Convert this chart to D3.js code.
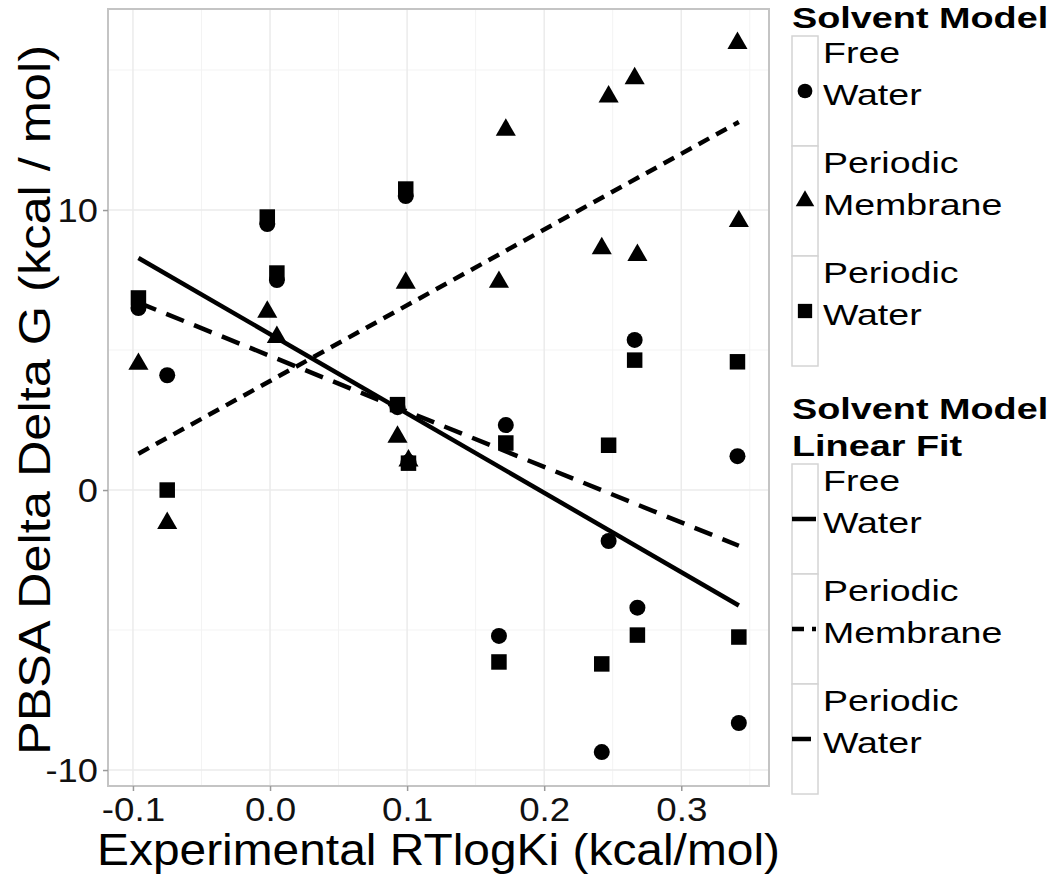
<!DOCTYPE html>
<html>
<head>
<meta charset="utf-8">
<script src="https://cdn.jsdelivr.net/npm/d3@7"></script>
<style>
  html, body { margin: 0; padding: 0; background: #fff; }
  svg { display: block; font-family: "Liberation Sans", Arial, Helvetica, sans-serif; }
</style>
</head>
<body>
<svg id="chart" width="1050" height="875"></svg>
<script>
// ---------------- DATA ----------------
const ligandX = [-0.096, -0.075, -0.002, 0.005, 0.093, 0.099, 0.101, 0.167, 0.172, 0.242, 0.247, 0.266, 0.268, 0.341, 0.342];
const freeWater        = [6.5, 4.1, 9.5, 7.5, 2.96, 10.5, 1.0, -5.21, 2.32, -9.36, -1.82, 5.36, -4.2, 1.21, -8.32];
const periodicMembrane = [4.5, -1.18, 6.36, 5.46, 1.9, 7.4, 1.05, 7.43, 12.86, 8.63, 14.05, 14.7, 8.39, 15.96, 9.6];
const periodicWater    = [6.86, 0.0, 9.75, 7.75, 3.05, 10.75, 0.96, -6.14, 1.68, -6.21, 1.6, 4.64, -5.18, 4.58, -5.25];
const seriesNames = ["Free Water", "Periodic Membrane", "Periodic Water"];
const legendLabels = [["Free", "Water"], ["Periodic", "Membrane"], ["Periodic", "Water"]];
const xTicks = [-0.1, 0.0, 0.1, 0.2, 0.3];
const xTickLabels = ["-0.1", "0.0", "0.1", "0.2", "0.3"];
const xMinor = [-0.05, 0.05, 0.15, 0.25, 0.35];
const yTicks = [-10, 0, 10];
const yTickLabels = ["-10", "0", "10"];
const yMinor = [-5, 5, 15];
const xTitle = "Experimental RTlogKi (kcal/mol)";
const yTitle = "PBSA Delta Delta G (kcal / mol)";
const legendTitle1 = ["Solvent Model"];
const legendTitle2 = ["Solvent Model", "Linear Fit"];

// ---------------- LAYOUT ----------------
const panel = { left: 108, right: 769, top: 9, bottom: 786 };
const svg = d3.select("#chart");
const x = d3.scaleLinear().domain([-0.1182, 0.364]).range([panel.left, panel.right]);
const y = d3.scaleLinear().domain([-10.57, 17.18]).range([panel.bottom, panel.top]);

const symbols = [d3.symbolCircle, d3.symbolTriangle, d3.symbolSquare];
const symbolSizes = [201, 175, 240];
const dashes = [null, "12,8", "19,11"];
const lineW = 4.5;

function stretch(sel, f) {
  sel.each(function () {
    const L = this.getComputedTextLength();
    d3.select(this).attr("textLength", L * f).attr("lengthAdjust", "spacingAndGlyphs");
  });
}

// panel background
svg.append("rect").attr("x", panel.left).attr("y", panel.top)
  .attr("width", panel.right - panel.left).attr("height", panel.bottom - panel.top)
  .attr("fill", "#fff");

// grid
const grid = svg.append("g");
grid.selectAll("line.xmin").data(xMinor).join("line")
  .attr("x1", d => x(d)).attr("x2", d => x(d)).attr("y1", panel.top).attr("y2", panel.bottom)
  .attr("stroke", "#f3f3f3").attr("stroke-width", 1);
grid.selectAll("line.ymin").data(yMinor).join("line")
  .attr("y1", d => y(d)).attr("y2", d => y(d)).attr("x1", panel.left).attr("x2", panel.right)
  .attr("stroke", "#f3f3f3").attr("stroke-width", 1);
grid.selectAll("line.xmaj").data(xTicks).join("line")
  .attr("x1", d => x(d)).attr("x2", d => x(d)).attr("y1", panel.top).attr("y2", panel.bottom)
  .attr("stroke", "#ebebeb").attr("stroke-width", 1.5);
grid.selectAll("line.ymaj").data(yTicks).join("line")
  .attr("y1", d => y(d)).attr("y2", d => y(d)).attr("x1", panel.left).attr("x2", panel.right)
  .attr("stroke", "#ebebeb").attr("stroke-width", 1.5);

// points
const series = [freeWater, periodicMembrane, periodicWater];
series.forEach((vals, si) => {
  const pts = ligandX.map((xv, i) => ({ x: xv, y: vals[i] }));
  svg.append("g").selectAll("path").data(pts).join("path")
    .attr("d", d3.symbol().type(symbols[si]).size(symbolSizes[si]))
    .attr("transform", d => `translate(${x(d.x)},${y(d.y)})`)
    .attr("fill", "#000");
});

// linear fits (least squares) over the x range of each group
series.forEach((vals, si) => {
  const mx = d3.mean(ligandX), my = d3.mean(vals);
  let sxy = 0, sxx = 0;
  ligandX.forEach((xv, i) => { sxy += (xv - mx) * (vals[i] - my); sxx += (xv - mx) * (xv - mx); });
  const b = sxy / sxx, a = my - b * mx;
  const ext = d3.extent(ligandX);
  const line = d3.line().x(d => x(d)).y(d => y(a + b * d));
  svg.append("path").attr("d", line(ext))
    .attr("fill", "none").attr("stroke", "#000").attr("stroke-width", lineW)
    .attr("stroke-dasharray", dashes[si]);
});

// panel border
svg.append("rect").attr("x", panel.left).attr("y", panel.top)
  .attr("width", panel.right - panel.left).attr("height", panel.bottom - panel.top)
  .attr("fill", "none").attr("stroke", "#c4c4c4").attr("stroke-width", 2);

// axes
const xAxis = svg.append("g").attr("transform", `translate(0,${panel.bottom})`)
  .call(d3.axisBottom(x).tickValues(xTicks).tickFormat((d, i) => xTickLabels[i]).tickSize(5).tickPadding(6));
const yAxis = svg.append("g").attr("transform", `translate(${panel.left},0)`)
  .call(d3.axisLeft(y).tickValues(yTicks).tickFormat((d, i) => yTickLabels[i]).tickSize(5).tickPadding(6));
[xAxis, yAxis].forEach(g => {
  g.select(".domain").remove();
  g.selectAll(".tick line").attr("stroke", "#9a9a9a").attr("stroke-width", 1.5);
  g.selectAll(".tick text").attr("fill", "#111").attr("font-family", "Liberation Sans, Arial, sans-serif");
});
xAxis.selectAll(".tick text").attr("font-size", 34).attr("dy", null).attr("y", 35);
yAxis.selectAll(".tick text").attr("font-size", 33).attr("dy", "0.36em").attr("x", -10);
stretch(xAxis.selectAll(".tick text"), 1.08);
stretch(yAxis.selectAll(".tick text"), 1.1);

// axis titles
svg.append("text").attr("x", (panel.left + panel.right) / 2).attr("y", 865)
  .attr("text-anchor", "middle").attr("font-size", 44).attr("fill", "#000")
  .attr("textLength", 683).attr("lengthAdjust", "spacingAndGlyphs")
  .text(xTitle);
svg.append("text").attr("transform", `translate(50,400) rotate(-90)`)
  .attr("text-anchor", "middle").attr("font-size", 44).attr("fill", "#000")
  .attr("textLength", 710).attr("lengthAdjust", "spacingAndGlyphs")
  .text(yTitle);

// ---------------- LEGENDS ----------------
const keyX = 792, keyW = 26, keyH = 110, labelX = 823;
function drawLegend(titleLines, titleBaseline, keyTop, drawKey) {
  const g = svg.append("g");
  const t = g.selectAll("text.title").data(titleLines).join("text")
    .attr("x", keyX).attr("y", (d, i) => titleBaseline + i * 37)
    .attr("font-size", 30).attr("font-weight", "bold").attr("fill", "#000").text(d => d);
  stretch(t, 1.26);
  seriesNames.forEach((name, i) => {
    const top = keyTop + i * keyH, cy = top + keyH / 2;
    g.append("rect").attr("x", keyX).attr("y", top).attr("width", keyW).attr("height", keyH)
      .attr("fill", "#fff").attr("stroke", "#d4d4d4").attr("stroke-width", 1.5);
    drawKey(g, i, keyX + keyW / 2, cy);
    const lab = g.selectAll(null).data(legendLabels[i]).join("text")
      .attr("x", labelX).attr("y", (d, j) => cy - 28 + j * 42)
      .attr("font-size", 30).attr("fill", "#000").text(d => d);
    stretch(lab, 1.25);
  });
}
drawLegend(legendTitle1, 28, 36, (g, i, cx, cy) => {
  g.append("path").attr("d", d3.symbol().type(symbols[i]).size(symbolSizes[i] * 0.85)())
    .attr("transform", `translate(${cx},${cy})`).attr("fill", "#000");
});
drawLegend(legendTitle2, 419, 464, (g, i, cx, cy) => {
  g.append("line").attr("x1", keyX).attr("x2", keyX + 24).attr("y1", cy).attr("y2", cy)
    .attr("stroke", "#000").attr("stroke-width", lineW).attr("stroke-dasharray", dashes[i]);
});
</script>
</body>
</html>
